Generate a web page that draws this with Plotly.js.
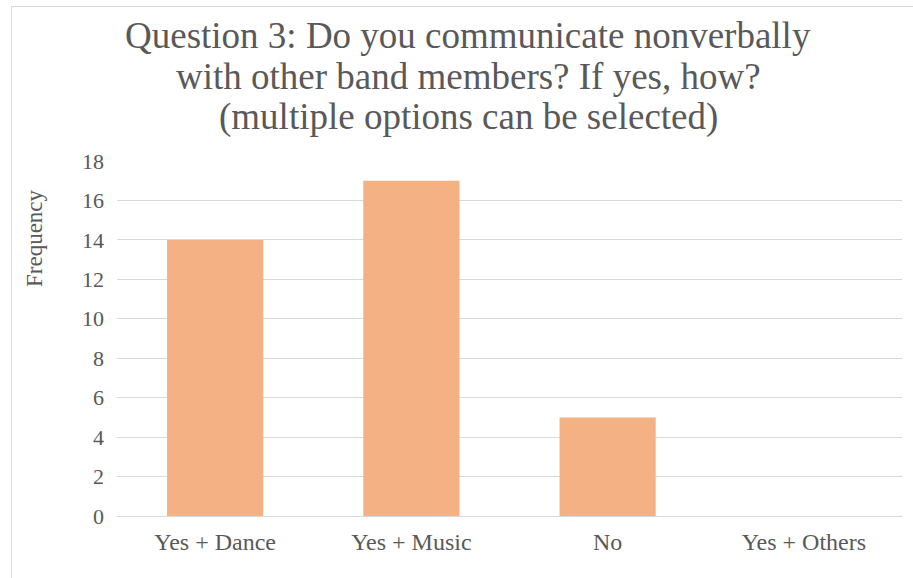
<!DOCTYPE html>
<html>
<head>
<meta charset="utf-8">
<script src="https://cdn.plot.ly/plotly-3.0.1.min.js"></script>
<style>
  html, body { margin: 0; padding: 0; background: #ffffff; overflow: hidden; }
  #frame { position: absolute; left: 11px; top: 6px; width: 1000px; height: 700px;
           border: 1px solid #d9d9d9; box-sizing: border-box; }
  #chart { position: absolute; left: 0; top: 0; width: 913px; height: 578px; }
</style>
</head>
<body>
<div id="frame"></div>
<div id="chart"></div>
<script>
// Survey answers and how many respondents chose each one
const categories = ["Yes + Dance", "Yes + Music", "No", "Yes + Others"];
const frequency = [14, 17, 5, 0];
const yTicks = [0, 2, 4, 6, 8, 10, 12, 14, 16, 18];
const titleLines = [
  "Question 3: Do you communicate nonverbally",
  "with other band members? If yes, how?",
  "(multiple options can be selected)"
];
const yTitle = "Frequency";

const textColor = "#595959";
const serif = "'Liberation Serif', 'Times New Roman', serif";

// plot area in pixels
const W = 913, H = 578;
const M = { l: 117, r: 11, t: 161, b: 62 };
const plotW = W - M.l - M.r, plotH = H - M.t - M.b;
const px2x = px => (px - M.l) / plotW;
const px2y = py => (H - M.b - py) / plotH;

const trace = {
  type: "bar",
  x: categories,
  y: frequency,
  marker: { color: "#F4B183" },
  hoverinfo: "x+y"
};

// chart title drawn line by line with tight spacing
const titleCentres = [35, 76, 117];
const annotations = titleLines.map((line, i) => ({
  text: line,
  xref: "paper", yref: "paper",
  x: px2x(468), y: px2y(titleCentres[i]),
  xanchor: "center", yanchor: "middle",
  showarrow: false,
  font: { family: serif, size: 37, color: textColor }
}));
annotations.push({
  text: yTitle,
  xref: "paper", yref: "paper",
  x: px2x(34), y: px2y(238),
  xanchor: "center", yanchor: "middle",
  textangle: -90,
  showarrow: false,
  font: { family: serif, size: 23, color: textColor }
});

const layout = {
  width: W,
  height: H,
  margin: M,
  paper_bgcolor: "rgba(0,0,0,0)",
  plot_bgcolor: "rgba(0,0,0,0)",
  showlegend: false,
  bargap: 0.51,
  font: { family: serif, color: textColor },
  annotations: annotations,
  xaxis: {
    type: "category",
    categoryorder: "array",
    categoryarray: categories,
    showgrid: false,
    showline: false,
    ticks: "",
    tickfont: { family: serif, size: 24, color: textColor },
    ticklabelstandoff: 9,
    automargin: false
  },
  yaxis: {
    range: [0, 18],
    tickvals: yTicks,
    ticktext: yTicks.map(String),
    showgrid: true,
    gridcolor: "#d9d9d9",
    gridwidth: 1,
    zeroline: true,
    zerolinecolor: "#d9d9d9",
    zerolinewidth: 1,
    showline: false,
    ticks: "",
    tickfont: { family: serif, size: 22, color: textColor },
    ticklabelstandoff: 12,
    automargin: false
  }
};

Plotly.newPlot("chart", [trace], layout, { displayModeBar: false });
</script>
</body>
</html>
